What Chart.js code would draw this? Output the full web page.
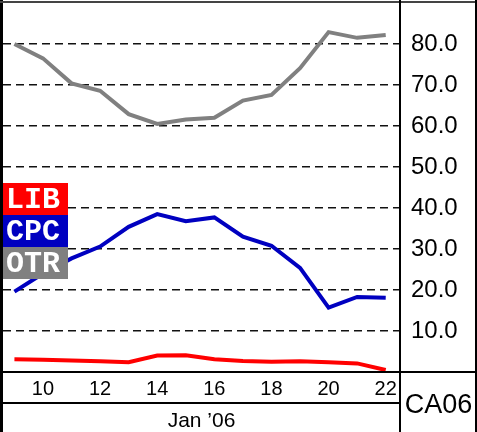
<!DOCTYPE html>
<html>
<head>
<meta charset="utf-8">
<script src="https://cdn.jsdelivr.net/npm/chart.js@4/dist/chart.umd.min.js"></script>
<style>
html,body{margin:0;padding:0;background:#fff;}
canvas{display:block;}
</style>
</head>
<body>
<canvas id="c" width="477" height="432"></canvas>
<script>
const days = [9,10,11,12,13,14,15,16,17,18,19,20,21,22];
const libValues = [3.1,3.0,2.8,2.6,2.4,4.0,4.1,3.1,2.7,2.5,2.6,2.4,2.1,0.5];
const cpcValues = [19.6,24.0,27.7,30.6,35.4,38.5,36.8,37.7,33.0,30.8,25.4,15.7,18.3,18.1];
const otrValues = [80.0,76.5,70.4,68.6,62.9,60.5,61.6,62.0,66.2,67.6,74.1,82.9,81.5,82.2];
const xTicks = [10,12,14,16,18,20,22];
const yTicks = [10,20,30,40,50,60,70,80];
const xTitle = "Jan \u201906";
const regionLabel = "CA06";
const seriesNames = ["LIB","CPC","OTR"];
const seriesColors = ["#ff0000","#0000c0","#808080"];

function pts(vals){ return days.map((d,i)=>({x:d,y:vals[i]})); }

const framePlugin = {
  id:'frame',
  afterDraw(chart){
    const ctx = chart.ctx, ca = chart.chartArea;
    const W = chart.width, H = chart.height;
    ctx.save();
    ctx.fillStyle = '#000';
    ctx.fillRect(0,0,3,H);
    ctx.fillStyle = '#444';
    ctx.fillRect(0,1,W,2);
    ctx.fillStyle = '#000';
    ctx.fillRect(ca.right-1,0,2,H);
    ctx.fillRect(W-2,0,2,H);
    ctx.fillRect(0,ca.bottom-1,W,2);
    ctx.fillRect(0,ca.bottom+30,ca.right,2);
    ctx.font = '27px "Liberation Sans", Arial, sans-serif';
    ctx.textAlign = 'center';
    ctx.textBaseline = 'middle';
    ctx.fillText(regionLabel,(ca.right+W)/2, (ca.bottom+H)/2+4);
    const bx = 3, bw = 65, bh = 32;
    let by = 183;
    ctx.font = 'bold 30px "Liberation Mono", monospace';
    ctx.textAlign = 'left';
    ctx.textBaseline = 'alphabetic';
    chart.data.datasets.forEach((ds,i)=>{
      ctx.fillStyle = ds.borderColor;
      ctx.fillRect(bx,by,bw,bh);
      ctx.fillStyle = '#fff';
      ctx.fillText(ds.label,bx+3,by+25);
      by += bh;
    });
    ctx.restore();
  }
};

new Chart(document.getElementById('c'),{
  type:'line',
  data:{
    datasets:[
      {label:seriesNames[0],data:pts(libValues),borderColor:seriesColors[0]},
      {label:seriesNames[1],data:pts(cpcValues),borderColor:seriesColors[1]},
      {label:seriesNames[2],data:pts(otrValues),borderColor:seriesColors[2]}
    ]
  },
  options:{
    responsive:false,
    animation:false,
    devicePixelRatio:1,
    layout:{padding:{left:3,top:3,right:0,bottom:0}},
    elements:{
      line:{borderWidth:4,tension:0,fill:false},
      point:{radius:0,hoverRadius:0}
    },
    plugins:{legend:{display:false},tooltip:{enabled:false}},
    scales:{
      x:{
        type:'linear',
        min:8.6,max:22.5,
        afterBuildTicks(s){ s.ticks = xTicks.map(v=>({value:v})); },
        afterFit(s){ s.height = 60; s.paddingLeft = 0; s.paddingRight = 0; },
        grid:{display:false,drawTicks:false},
        border:{display:false},
        ticks:{
          color:'#000',
          font:{family:'"Liberation Sans", Arial, sans-serif',size:20},
          padding:5,
          maxRotation:0,
          autoSkip:false,
          callback:v=>String(v)
        },
        title:{
          display:true,text:xTitle,color:'#000',
          font:{family:'"Liberation Sans", Arial, sans-serif',size:21,lineHeight:1},
          padding:{top:0,bottom:0}
        }
      },
      y:{
        type:'linear',
        position:'right',
        min:0,max:90,
        afterBuildTicks(s){ s.ticks = yTicks.map(v=>({value:v})); },
        afterFit(s){ s.width = 77; s.paddingTop = 0; s.paddingBottom = 0; },
        grid:{color:'#111',lineWidth:1.5,drawTicks:false},
        border:{display:false,dash:[8,5]},
        ticks:{
          color:'#000',
          font:{family:'"Liberation Sans", Arial, sans-serif',size:24},
          padding:11,
          callback:v=>Number(v).toFixed(1)
        }
      }
    }
  },
  plugins:[framePlugin]
});
</script>
</body>
</html>
